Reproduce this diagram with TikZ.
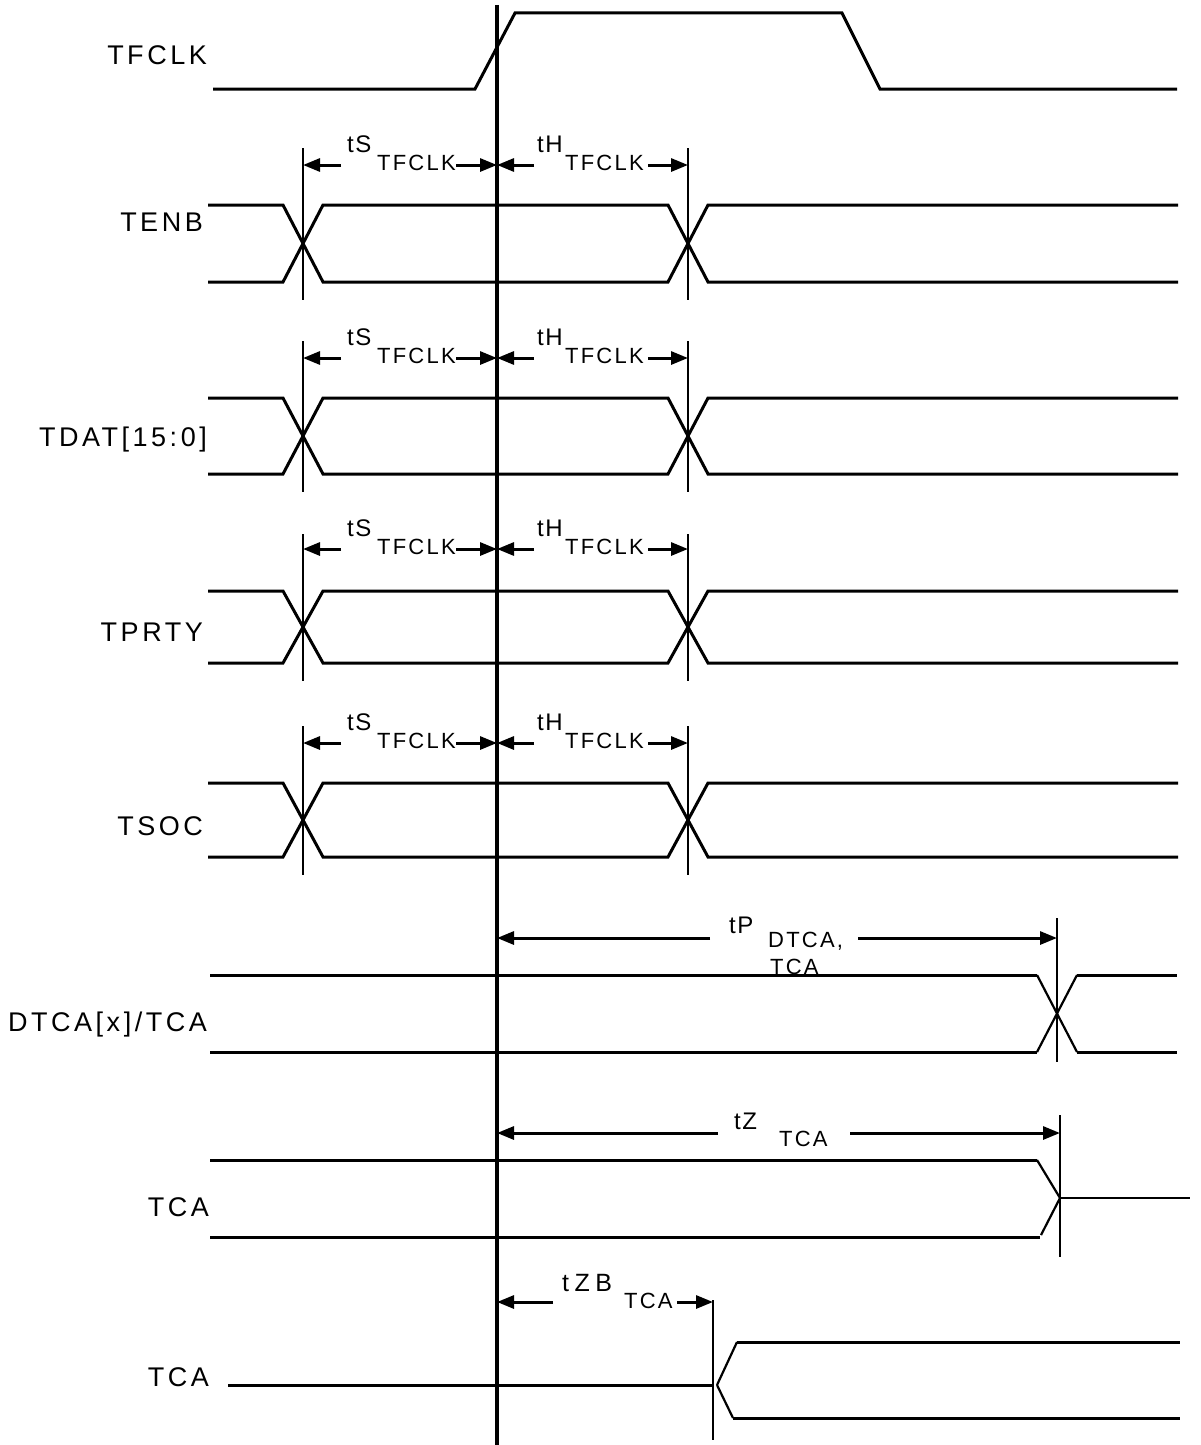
\documentclass[tikz,border=0pt]{standalone}
\usepackage{fontspec}
\usetikzlibrary{arrows.meta}
\newfontfamily\labfont[LetterSpace=13]{Liberation Sans}
\newfontfamily\tfont[LetterSpace=6]{Liberation Sans}
\newfontfamily\widefont[LetterSpace=22]{Liberation Sans}
\newfontfamily\subfont[LetterSpace=10]{Liberation Sans}
\tikzset{
  sig/.style={line width=3pt},
  thinsig/.style={line width=2.2pt},
  tickl/.style={line width=2.6pt},
  clk/.style={line width=4pt},
  dimr/.style={line width=3pt,-{Triangle[length=17pt,width=13pt]}},
  lbl/.style={font=\labfont\fontsize{27}{31}\selectfont, inner sep=0pt},
  tl/.style={font=\tfont\fontsize{24}{28}\selectfont, inner sep=0pt},
  tlw/.style={font=\widefont\fontsize{25}{29}\selectfont, inner sep=0pt},
  sub/.style={font=\subfont\fontsize{22}{26}\selectfont, inner sep=0pt},
}
\newcommand{\busrow}[2]{%
  \draw[sig] (208,#1) -- (283,#1) -- (323,#2) -- (668,#2) -- (708,#1) -- (1178,#1);
  \draw[sig] (208,#2) -- (283,#2) -- (323,#1) -- (668,#1) -- (708,#2) -- (1178,#2);
  \draw[tickl] (303,#1-57) -- (303,#2+18);
  \draw[tickl] (688,#1-57) -- (688,#2+18);
}
% #1 arrow y
\newcommand{\setuphold}[1]{%
  \coordinate (a1) at (303,#1); \coordinate (a2) at (341,#1);
  \coordinate (a3) at (456,#1); \coordinate (a4) at (497,#1);
  \coordinate (a5) at (534,#1); \coordinate (a6) at (648,#1);
  \coordinate (a7) at (688,#1);
  \draw[dimr] (a2) -- (a1);
  \draw[dimr] (a3) -- (a4);
  \draw[dimr] (a5) -- (a4);
  \draw[dimr] (a6) -- (a7);
  \node[tl, anchor=west] at (347,#1-21) {tS};
  \node[sub, anchor=west] at (377,#1-2) {TFCLK};
  \node[tl, anchor=west] at (537,#1-21) {tH};
  \node[sub, anchor=west] at (565,#1-2) {TFCLK};
}
\begin{document}
\begin{tikzpicture}[x=1pt,y=-1pt,line join=miter]
\useasboundingbox (0,0) rectangle (1200,1445);
% labels
\node[lbl, anchor=east] (lclk) at (207,55) {TFCLK};
\node[lbl, anchor=east] (lenb) at (203,222) {TENB};
\node[lbl, anchor=east] (ldat) at (207,440) {TDAT[15:0]};
\node[lbl, anchor=east] (lprty) at (203,632) {TPRTY};
\node[lbl, anchor=east] (lsoc) at (203,826) {TSOC};
\node[lbl, anchor=east] (ldtca) at (207,1025) {DTCA[x]/TCA};
\node[lbl, anchor=east] (ltca) at (209,1207) {TCA};
\node[lbl, anchor=east] (ltcb) at (209,1377) {TCA};
% TFCLK
\draw[sig] (213,89) -- (475,89) -- (515,13) -- (842,13) -- (880,89) -- (1177,89);
% bus rows
\busrow{205}{282}
\busrow{398}{474}
\busrow{591}{663}
\busrow{783}{857}
\setuphold{165}
\setuphold{358}
\setuphold{549}
\setuphold{743}
% DTCA
\draw[sig] (210,975) -- (1037,975);
\draw[sig] (210,1052) -- (1037,1052);
\draw[thinsig] (1037,975) -- (1077,1052);
\draw[thinsig] (1037,1052) -- (1077,975);
\draw[sig] (1077,975) -- (1177,975);
\draw[sig] (1077,1052) -- (1177,1052);
\draw[tickl] (1057,918) -- (1057,1062);
\coordinate (p0) at (497,938); \coordinate (p1) at (710,938);
\coordinate (p2) at (858,938); \coordinate (p3) at (1057,938);
\draw[dimr] (p1) -- (p0);
\draw[dimr] (p2) -- (p3);
\node[tl, anchor=west] (tp) at (729,925) {tP};
\node[sub, anchor=west] (tpd) at (768,941) {DTCA,};
\node[sub, anchor=west] (tpt) at (770,967) {TCA};
% TCA 1
\draw[sig] (210,1160) -- (1037,1160);
\draw[thinsig] (1037,1160) -- (1060,1198);
\draw[sig] (210,1237) -- (1040,1237);
\draw[thinsig] (1041,1235) -- (1060,1198);
\draw[thinsig] (1060,1198) -- (1190,1198);
\draw[tickl] (1060,1115) -- (1060,1257);
\coordinate (z0) at (497,1133); \coordinate (z1) at (718,1133);
\coordinate (z2) at (850,1133); \coordinate (z3) at (1060,1133);
\draw[dimr] (z1) -- (z0);
\draw[dimr] (z2) -- (z3);
\node[tl, anchor=west] (tz) at (734,1121) {tZ};
\node[sub, anchor=west] (tzs) at (779,1139) {TCA};
% TCA 2
\draw[sig] (228,1385) -- (713,1385);
\draw[tickl] (713,1300) -- (713,1440);
\draw[thinsig] (717,1385) -- (737,1342);
\draw[sig] (737,1342) -- (1180,1342);
\draw[thinsig] (717,1385) -- (733,1418);
\draw[sig] (733,1418) -- (1180,1418);
\coordinate (b0) at (497,1302); \coordinate (b1) at (553,1302);
\coordinate (b2) at (677,1302); \coordinate (b3) at (713,1302);
\draw[dimr] (b1) -- (b0);
\draw[dimr] (b2) -- (b3);
\node[tlw, anchor=west] (tzb) at (562,1283) {tZB};
\node[sub, anchor=west] (tzbs) at (624,1301) {TCA};
% main clock edge line
\draw[clk] (497,5) -- (497,1445);
\end{tikzpicture}
\end{document}
